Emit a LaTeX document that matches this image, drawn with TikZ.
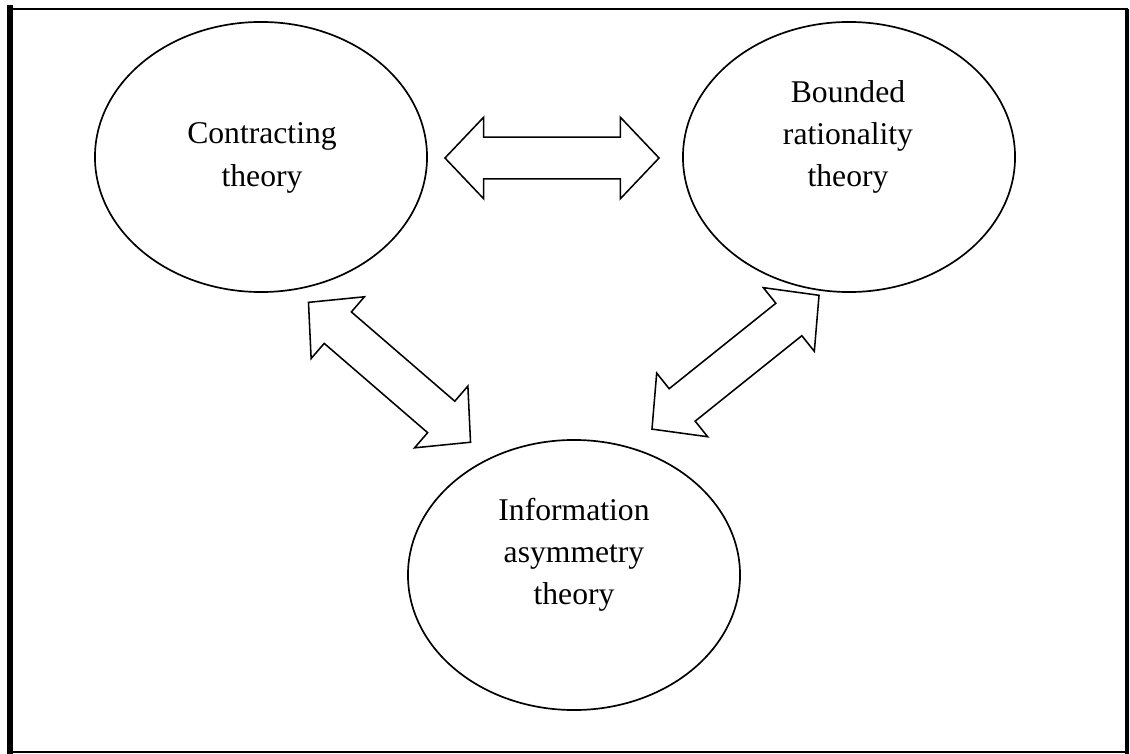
\documentclass[tikz,border=0pt]{standalone}
\usepackage{fontspec}
\setmainfont{Liberation Serif}
\usetikzlibrary{shapes.geometric, shapes.arrows, positioning}

\begin{document}
\begin{tikzpicture}[
    x=0.025cm, y=-0.025cm,
    theory/.style={draw, ellipse, line width=1.2pt, minimum width=8.3cm, minimum height=6.75cm, inner sep=0pt},
    txt/.style={align=center, inner sep=0pt, font=\fontsize{22.5}{30}\selectfont},
    link/.style={draw, double arrow, line width=1.1pt, minimum height=5.35cm, double arrow head extend=0.5cm, double arrow tip angle=93, inner sep=0pt, inner ysep=0.5cm}
]
    % Frame
    \useasboundingbox (0,0) rectangle (1130,754);
    \draw[line width=1.4pt] (10,9) rectangle (1127,752);
    \draw[line width=3.8pt] (10,5) -- (10,754);
    \draw[line width=3pt] (1127,9) -- (1127,754);

    % Theories
    \node[theory] (contract) at (261,157) {};
    \node[theory] (bounded) at (849,157) {};
    \node[theory] (info) at (574,575) {};

    % Labels
    \node[txt] (contracttxt) at (262,158) {Contracting\\theory};
    \node[txt] (boundedtxt) at (848,137) {Bounded\\rationality\\theory};
    \node[txt] (infotxt) at (574,555) {Information\\asymmetry\\theory};

    % Links
    \node[link] (top) at (552,158) {};
    \node[link, rotate=-40.8] (left) at (389.5,372.3) {};
    \node[link, rotate=38.7] (right) at (735.5,362.2) {};

\end{tikzpicture}
\end{document}
